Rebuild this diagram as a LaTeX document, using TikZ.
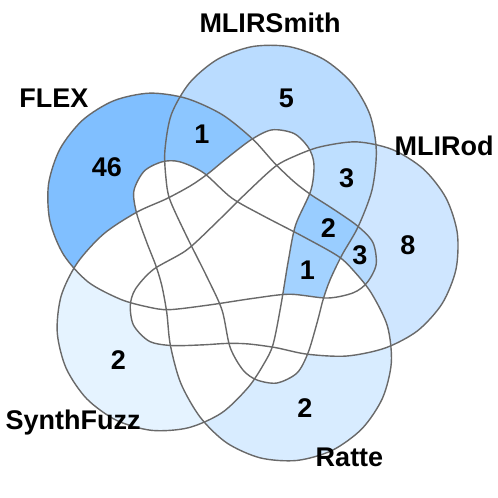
\documentclass[tikz,border=0pt]{standalone}
\usepackage{fontspec}
\setmainfont{Liberation Sans}
\newcommand{\vshape}{plot[smooth cycle] coordinates {(32,-127.5) (52,-117.5) (63,-97.5) (72,-67.5) (78,-44.5) (85,-24.5) (97,0.5) (113,28.5) (127,65.5) (131.3,104.8) (124.9,140.9) (106.6,172.7) (78.5,196.3) (44.0,208.9) (7.2,208.9) (-27.3,196.3) (-55.4,172.7) (-73.7,140.9) (-80.1,104.8) (-79,77) (-75,55.5) (-58,18.5) (-38,-21.5) (-23,-54.5) (-15,-91.5) (-2,-114.5) (12,-124.5)}}
\newcommand{\inset}[1]{\clip[rotate=#1] \vshape;}
\newcommand{\outset}[1]{\clip[rotate=#1] (-700,-700) rectangle (700,700) \vshape;}
\definecolor{cF}{RGB}{128,191,255}
\definecolor{cFM}{RGB}{140,198,255}
\definecolor{cM}{RGB}{186,220,255}
\definecolor{cMR}{RGB}{190,223,255}
\definecolor{cR}{RGB}{207,230,255}
\definecolor{cFMR}{RGB}{153,205,255}
\definecolor{cFR}{RGB}{181,218,255}
\definecolor{cFMRT}{RGB}{163,210,255}
\definecolor{cS}{RGB}{229,243,255}
\definecolor{cT}{RGB}{216,236,255}
\definecolor{edge}{RGB}{105,105,105}
\begin{document}
\begin{tikzpicture}[x=1pt,y=1pt,
  setline/.style={draw=edge, line width=1.4pt},
  region/.style={even odd rule},
  setname/.style={font=\fontsize{27}{30}\selectfont\bfseries, inner sep=0pt},
  count/.style={font=\fontsize{27}{30}\selectfont\bfseries, inner sep=0pt}]
\useasboundingbox (-245,-242.5) rectangle (253,255.5);
% rotations: MLIRSmith 0, MLIRod -72, Ratte -144, SynthFuzz 144, FLEX 72
% FLEX only
\begin{scope}[region]\inset{72}\outset{0}\outset{-72}\outset{-144}\outset{144}\fill[cF] (-300,-300) rectangle (300,300);\end{scope}
% FLEX & MLIRSmith
\begin{scope}[region]\inset{72}\inset{0}\outset{-72}\outset{-144}\outset{144}\fill[cFM] (-300,-300) rectangle (300,300);\end{scope}
% MLIRSmith only
\begin{scope}[region]\inset{0}\outset{72}\outset{-72}\outset{-144}\outset{144}\fill[cM] (-300,-300) rectangle (300,300);\end{scope}
% MLIRSmith & MLIRod
\begin{scope}[region]\inset{0}\inset{-72}\outset{72}\outset{-144}\outset{144}\fill[cMR] (-300,-300) rectangle (300,300);\end{scope}
% MLIRod only
\begin{scope}[region]\inset{-72}\outset{72}\outset{0}\outset{-144}\outset{144}\fill[cR] (-300,-300) rectangle (300,300);\end{scope}
% FLEX & MLIRSmith & MLIRod
\begin{scope}[region]\inset{72}\inset{0}\inset{-72}\outset{-144}\outset{144}\fill[cFMR] (-300,-300) rectangle (300,300);\end{scope}
% FLEX & MLIRod
\begin{scope}[region]\inset{72}\inset{-72}\outset{0}\outset{-144}\outset{144}\fill[cFR] (-300,-300) rectangle (300,300);\end{scope}
% FLEX & MLIRSmith & MLIRod & Ratte
\begin{scope}[region]\inset{72}\inset{0}\inset{-72}\inset{-144}\outset{144}\fill[cFMRT] (-300,-300) rectangle (300,300);\end{scope}
% SynthFuzz only
\begin{scope}[region]\inset{144}\outset{72}\outset{0}\outset{-72}\outset{-144}\fill[cS] (-300,-300) rectangle (300,300);\end{scope}
% Ratte only
\begin{scope}[region]\inset{-144}\outset{72}\outset{0}\outset{-72}\outset{144}\fill[cT] (-300,-300) rectangle (300,300);\end{scope}
% outlines
\draw[setline, rotate=72] \vshape;
\draw[setline, rotate=0] \vshape;
\draw[setline, rotate=-72] \vshape;
\draw[setline, rotate=-144] \vshape;
\draw[setline, rotate=144] \vshape;
% set names
\node[setname] (nF) at (-191,157.5) {FLEX};
\node[setname] (nM) at (25,233) {MLIRSmith};
\node[setname] (nR) at (199,109.5) {MLIRod};
\node[setname] (nT) at (104.5,-201.5) {Ratte};
\node[setname] (nS) at (-172,-167.5) {SynthFuzz};
% counts
\node[count] (kF) at (-138,88.5) {46};
\node[count] (kFM) at (-43,121.5) {1};
\node[count] (kM) at (41.3,157.2) {5};
\node[count] (kMR) at (101.7,77.2) {3};
\node[count] (kR) at (163,10.5) {8};
\node[count] (kFMR) at (83.3,27.2) {2};
\node[count] (kFR) at (115,0.5) {3};
\node[count] (kFMRT) at (62.3,-14.5) {1};
\node[count] (kS) at (-126.7,-104.5) {2};
\node[count] (kT) at (60,-152.8) {2};
\end{tikzpicture}
\end{document}
